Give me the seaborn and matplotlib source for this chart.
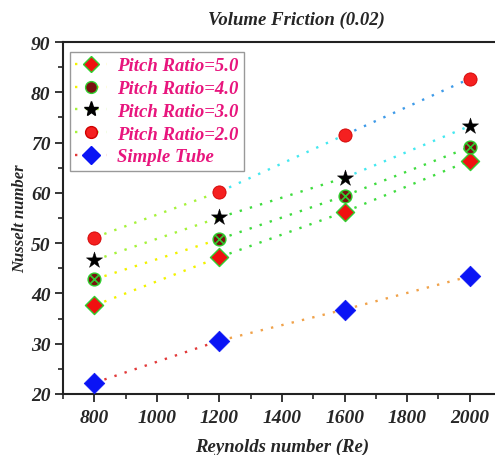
import matplotlib
matplotlib.use("Agg")
import matplotlib.pyplot as plt
import seaborn as sns
import pandas as pd
from matplotlib.lines import Line2D

reynolds = [800, 1200, 1600, 2000]
pitch_5 = [37.6, 47.2, 56.2, 66.4]
pitch_4 = [42.8, 50.8, 59.4, 69.1]
pitch_3 = [46.6, 55.1, 63.0, 73.3]
pitch_2 = [51.1, 60.2, 71.5, 82.7]
simple_tube = [22.2, 30.6, 36.8, 43.4]
series_names = ["Pitch Ratio=5.0", "Pitch Ratio=4.0", "Pitch Ratio=3.0",
                "Pitch Ratio=2.0", "Simple Tube"]

sns.set_theme(style="ticks")
plt.rcParams['font.family'] = ['Liberation Serif', 'DejaVu Serif']
plt.rcParams['font.weight'] = 'bold'
plt.rcParams['font.style'] = 'italic'

fig = plt.figure(figsize=(4.95, 4.56), dpi=100)
ax = fig.add_axes([63/495, 1-395/456, (501-63)/495, (395-43)/456])

YEL = "#f2f200"; YG = "#a6f23a"; GRN = "#3fdc3f"; CYN = "#44e8f0"; BLU = "#3d9ae8"
RED = "#e23a3a"; ORG = "#f0a24a"
seg_colors = {
    "Pitch Ratio=5.0": [YEL, GRN, GRN],
    "Pitch Ratio=4.0": [YEL, GRN, GRN],
    "Pitch Ratio=3.0": [YG, GRN, CYN],
    "Pitch Ratio=2.0": [YG, CYN, BLU],
    "Simple Tube": [RED, ORG, ORG],
}
styles = {
    "Pitch Ratio=5.0": dict(marker="D", s=85, color="#f01010", edgecolor="#30d030", linewidth=1.0),
    "Pitch Ratio=4.0": dict(marker="o", s=85, color="#7a1010", edgecolor="#30d030", linewidth=1.0),
    "Pitch Ratio=3.0": dict(marker="*", s=150, color="black", edgecolor="black", linewidth=0.3),
    "Pitch Ratio=2.0": dict(marker="o", s=90, color="#f52020", edgecolor="#d00000", linewidth=0.6),
    "Simple Tube": dict(marker="D", s=110, color="#0a14f5", edgecolor="#0a14f5", linewidth=0.5),
}
data = dict(zip(series_names, [pitch_5, pitch_4, pitch_3, pitch_2, simple_tube]))

for name in series_names:
    ys = data[name]
    for i in range(len(reynolds) - 1):
        ax.plot(reynolds[i:i+2], ys[i:i+2], linestyle=(0, (1, 3.5)), lw=1.7,
                color=seg_colors[name][i], zorder=1)
for name in series_names:
    df = pd.DataFrame({"Re": reynolds, "Nu": data[name]})
    sns.scatterplot(data=df, x="Re", y="Nu", ax=ax, zorder=3, legend=False, **styles[name])
    if name == "Pitch Ratio=4.0":
        sns.scatterplot(data=df, x="Re", y="Nu", ax=ax, zorder=4, legend=False,
                        marker="x", s=42, color="#30d030", linewidth=1.2)

ax.set_xlim(700, 2100)
ax.set_ylim(20, 90)
ax.set_xticks([800, 1000, 1200, 1400, 1600, 1800, 2000])
ax.set_xticks(range(700, 2101, 100), minor=True)
ax.set_yticks(range(20, 91, 10))
ax.set_yticks(range(20, 91, 5), minor=True)
ax.tick_params(axis='both', which='major', direction='out', length=6, width=1.3,
               labelsize=14)
ax.tick_params(axis='x', which='major', pad=5)
ax.tick_params(axis='y', which='major', pad=3)
ax.tick_params(axis='both', which='minor', direction='out', length=3.5, width=1.2)
for lab in ax.get_xticklabels() + ax.get_yticklabels():
    lab.set_fontweight('bold'); lab.set_fontstyle('italic')
for sp in ['top', 'left', 'bottom']:
    ax.spines[sp].set_linewidth(1.5)
    ax.spines[sp].set_color('#222222')
ax.spines['right'].set_visible(False)

ax.set_xlabel("Reynolds number (Re)", fontsize=13.5, fontweight='bold', fontstyle='italic', labelpad=8)
ax.set_ylabel("Nusselt number", fontsize=12, fontweight='bold', fontstyle='italic', labelpad=2)
fig.text(296/495, 1-20/456, "Volume Friction (0.02)", ha='center', va='center',
         fontsize=13.5, fontweight='bold', fontstyle='italic')

handles = []
for name in series_names:
    st = styles[name]
    ms = {"D": 8, "o": 8.5, "*": 11}[st["marker"]]
    if name == "Simple Tube":
        ms = 9
    h = Line2D([0], [0], linestyle=(0, (1, 3.5)), lw=1.7, color=seg_colors[name][0],
               marker=st["marker"], markersize=ms, markerfacecolor=st["color"],
               markeredgecolor=st["edgecolor"], markeredgewidth=1.0)
    handles.append(h)
leg = ax.legend(handles, series_names, loc='upper left', bbox_to_anchor=(7/438, 1-10/352),
                borderaxespad=0, frameon=True, fancybox=False, edgecolor='#999999', framealpha=1,
                prop=dict(family='Liberation Serif', weight='bold', style='italic', size=13.5),
                handlelength=1.7, handletextpad=0.55, labelspacing=0.3, borderpad=0.28)
for t in leg.get_texts():
    t.set_color('#e8157d')
leg.get_frame().set_linewidth(1.0)

fig.savefig("out.png", dpi=100)
